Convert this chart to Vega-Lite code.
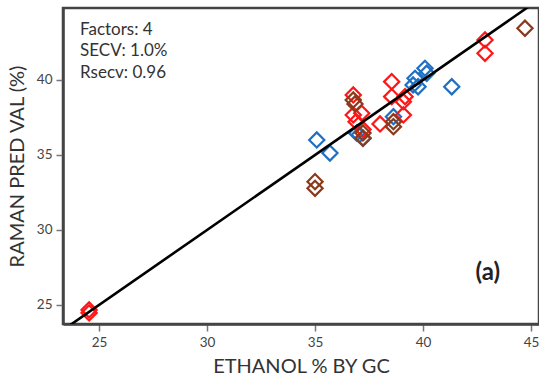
{
  "$schema": "https://vega.github.io/schema/vega-lite/v6.json",
  "autosize": "none",
  "width": 476,
  "height": 316,
  "padding": {"left": 63, "top": 8, "right": 0, "bottom": 57},
  "config": {
    "view": {"stroke": "#444444", "strokeWidth": 2.5},
    "font": "Lato"
  },
  "datasets": {
    "pts": [
      {"gc": 35.08, "pred": 36.0, "grp": "blue"},
      {"gc": 35.69, "pred": 35.13, "grp": "blue"},
      {"gc": 36.93, "pred": 36.45, "grp": "blue"},
      {"gc": 37.05, "pred": 36.35, "grp": "blue"},
      {"gc": 37.22, "pred": 36.1, "grp": "blue"},
      {"gc": 38.63, "pred": 37.55, "grp": "blue"},
      {"gc": 40.09, "pred": 40.78, "grp": "blue"},
      {"gc": 40.17, "pred": 40.45, "grp": "blue"},
      {"gc": 39.63, "pred": 40.11, "grp": "blue"},
      {"gc": 39.77, "pred": 39.55, "grp": "blue"},
      {"gc": 39.54, "pred": 39.67, "grp": "blue"},
      {"gc": 41.33, "pred": 39.55, "grp": "blue"},
      {"gc": 24.54, "pred": 24.67, "grp": "red"},
      {"gc": 24.54, "pred": 24.47, "grp": "red"},
      {"gc": 36.77, "pred": 39.0, "grp": "red"},
      {"gc": 36.77, "pred": 37.67, "grp": "red"},
      {"gc": 36.9, "pred": 37.22, "grp": "red"},
      {"gc": 37.16, "pred": 37.78, "grp": "red"},
      {"gc": 37.22, "pred": 36.7, "grp": "red"},
      {"gc": 38.01, "pred": 37.07, "grp": "red"},
      {"gc": 38.55, "pred": 39.89, "grp": "red"},
      {"gc": 38.55, "pred": 38.89, "grp": "red"},
      {"gc": 39.17, "pred": 38.89, "grp": "red"},
      {"gc": 39.09, "pred": 38.55, "grp": "red"},
      {"gc": 39.09, "pred": 37.67, "grp": "red"},
      {"gc": 42.87, "pred": 42.67, "grp": "red"},
      {"gc": 42.87, "pred": 41.78, "grp": "red"},
      {"gc": 36.77, "pred": 38.67, "grp": "brown"},
      {"gc": 36.85, "pred": 38.4, "grp": "brown"},
      {"gc": 35.0, "pred": 33.22, "grp": "brown"},
      {"gc": 35.0, "pred": 32.78, "grp": "brown"},
      {"gc": 37.22, "pred": 36.47, "grp": "brown"},
      {"gc": 37.22, "pred": 36.13, "grp": "brown"},
      {"gc": 38.63, "pred": 37.22, "grp": "brown"},
      {"gc": 38.63, "pred": 36.89, "grp": "brown"},
      {"gc": 44.72, "pred": 43.45, "grp": "brown"}
    ],
    "fit": [
      {"gc": 23.0, "pred": 23.0},
      {"gc": 45.5, "pred": 45.5}
    ],
    "notes": [
      {"gc": 24.12, "pred": 43.33, "txt": "Factors: 4"},
      {"gc": 24.12, "pred": 41.93, "txt": "SECV: 1.0%"},
      {"gc": 24.12, "pred": 40.47, "txt": "Rsecv: 0.96"}
    ],
    "label": [
      {"gc": 43.0, "pred": 27.13, "txt": "(a)"}
    ]
  },
  "layer": [
    {
      "data": {"name": "pts"},
      "mark": {"type": "point", "shape": "diamond", "filled": false, "size": 230, "strokeWidth": 2.2, "opacity": 1},
      "encoding": {
        "x": {
          "field": "gc", "type": "quantitative",
          "scale": {"domain": [23.33, 45.37], "nice": false, "zero": false},
          "axis": {
            "title": "ETHANOL % BY GC", "values": [25, 30, 35, 40, 45],
            "grid": false, "domainColor": "#444444", "domainWidth": 2.5,
            "tickColor": "#777777", "tickSize": 7, "tickWidth": 1.5,
            "labelColor": "#444444", "labelFontSize": 13.5, "labelPadding": 4,
            "titleColor": "#333333", "titleFontSize": 20, "titleFontWeight": "normal", "titlePadding": 8
          }
        },
        "y": {
          "field": "pred", "type": "quantitative",
          "scale": {"domain": [23.73, 44.8], "nice": false, "zero": false},
          "axis": {
            "title": "RAMAN PRED VAL (%)", "values": [25, 30, 35, 40],
            "grid": false, "domainColor": "#444444", "domainWidth": 2.5,
            "tickColor": "#777777", "tickSize": 7, "tickWidth": 1.5,
            "labelColor": "#444444", "labelFontSize": 13.5, "labelPadding": 4,
            "titleColor": "#333333", "titleFontSize": 20, "titleFontWeight": "normal", "titlePadding": 9
          }
        },
        "color": {
          "field": "grp", "type": "nominal",
          "scale": {"domain": ["blue", "red", "brown"], "range": ["#1F6FC2", "#FF1616", "#8B3A1C"]},
          "legend": null
        }
      }
    },
    {
      "data": {"name": "fit"},
      "mark": {"type": "line", "color": "#000000", "strokeWidth": 2.6, "clip": true},
      "encoding": {
        "x": {"field": "gc", "type": "quantitative"},
        "y": {"field": "pred", "type": "quantitative"}
      }
    },
    {
      "data": {"name": "notes"},
      "mark": {"type": "text", "align": "left", "baseline": "middle", "fontSize": 17, "color": "#333333"},
      "encoding": {
        "x": {"field": "gc", "type": "quantitative"},
        "y": {"field": "pred", "type": "quantitative"},
        "text": {"field": "txt"}
      }
    },
    {
      "data": {"name": "label"},
      "mark": {"type": "text", "align": "center", "baseline": "middle", "fontSize": 24, "fontWeight": "bold", "color": "#222222"},
      "encoding": {
        "x": {"field": "gc", "type": "quantitative"},
        "y": {"field": "pred", "type": "quantitative"},
        "text": {"field": "txt"}
      }
    }
  ]
}
